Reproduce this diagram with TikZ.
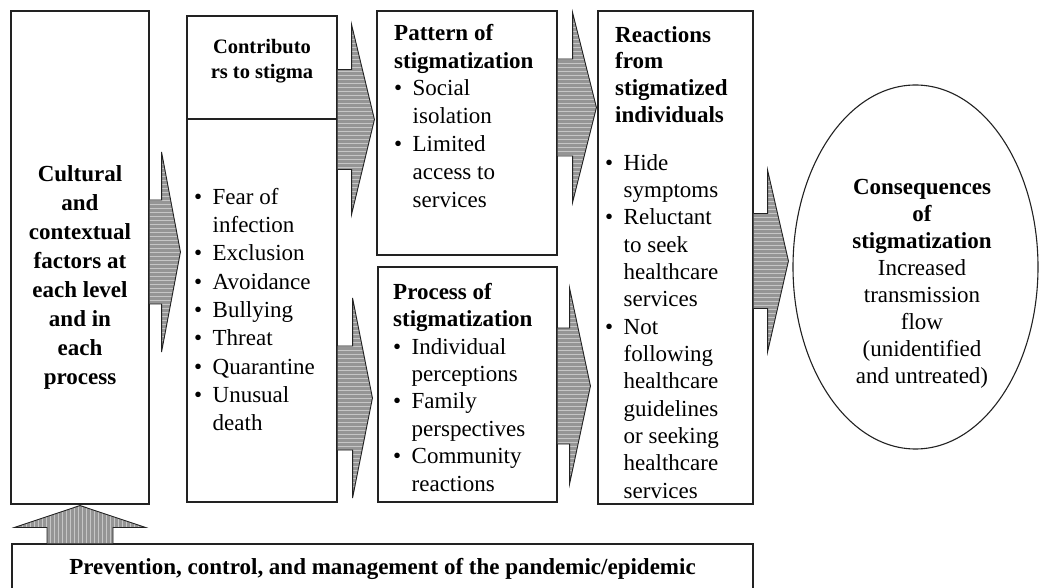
\documentclass[tikz,border=0pt]{standalone}
\usepackage{fontspec}
\setmainfont{Liberation Serif}
\usetikzlibrary{calc,positioning,shapes.geometric}
\definecolor{LineDark}{HTML}{222222}
\definecolor{ArrowGray}{HTML}{959595}
\definecolor{StripeGray}{HTML}{C6C6C6}
\tikzset{
  panel/.style={draw=LineDark, line width=1.1pt, fill=white, inner sep=0pt},
  headtxt/.style={font=\fontsize{23}{26.7}\selectfont\bfseries, inner sep=0pt, align=center},
  listtxt/.style={font=\fontsize{23}{27.4}\selectfont, inner sep=0pt, align=left},
  arrowedge/.style={draw=LineDark, line width=0.9pt},
  stripe/.style={StripeGray, line width=0.6pt},
}
% bullet and hanging indent for the item lists
\newcommand{\bul}{\makebox[18.5pt][l]{\textbullet}}
\newcommand{\cont}{\hspace*{18.5pt}}
% block arrow: source, target, mid height, shaft half, head half, shaft length, gap
\newcommand{\fatarrow}[7]{%
  \coordinate (fa-s) at (#1.east |- 0,#3);
  \coordinate (fa-t) at ($(#2.west |- 0,#3)+(-#7,0)$);
  \coordinate (fa-a) at ($(fa-s)+(0,#4)$);
  \coordinate (fa-b) at ($(fa-s)+(#6,#4)$);
  \coordinate (fa-c) at ($(fa-s)+(#6,#5)$);
  \coordinate (fa-d) at ($(fa-s)+(#6,-#5)$);
  \coordinate (fa-e) at ($(fa-s)+(#6,-#4)$);
  \coordinate (fa-f) at ($(fa-s)+(0,-#4)$);
  \fill[ArrowGray] (fa-a) -- (fa-b) -- (fa-c) -- (fa-t) -- (fa-d) -- (fa-e) -- (fa-f) -- cycle;
  \begin{scope}
    \clip (fa-a) -- (fa-b) -- (fa-c) -- (fa-t) -- (fa-d) -- (fa-e) -- (fa-f) -- cycle;
    \foreach \k in {-100,-96,...,100}
      \draw[stripe] ($(fa-s)+(0,\k)$) -- ++(45,0);
  \end{scope}
  \draw[arrowedge] (fa-a) -- (fa-b) -- (fa-c) -- (fa-t) -- (fa-d) -- (fa-e) -- (fa-f);
}
\begin{document}
\begin{tikzpicture}[x=1pt,y=1pt]
  \clip (0,0) rectangle (1039,587);

  % ---- Boxes ----
  \node[panel, minimum width=138, minimum height=493] (cult)    at (80,329.5)   {};
  \node[panel, minimum width=150, minimum height=486] (contrib) at (262,328)    {};
  \node[panel, minimum width=180, minimum height=244] (pattern) at (467,454)    {};
  \node[panel, minimum width=179, minimum height=235] (process) at (467.5,202.5){};
  \node[panel, minimum width=155, minimum height=493] (react)   at (675.5,329.5){};
  \node[panel, ellipse, minimum width=245, minimum height=364] (conseq) at (915.5,320) {};
  \node[panel, minimum width=741, minimum height=60]  (prev)    at (382.5,13)   {};
  \draw[LineDark, line width=1.1pt] (contrib.west |- 0,468) -- (contrib.east |- 0,468);

  % ---- Texts ----
  \node[headtxt, font=\fontsize{23}{29}\selectfont\bfseries, anchor=north] (cult-txt) at (80,422)
        {Cultural\\and\\contextual\\factors at\\each level\\and in\\each\\process};
  \node[headtxt, font=\fontsize{20.5}{25}\selectfont\bfseries, anchor=north] (contrib-head) at (262,548)
        {Contributo\\rs to stigma};
  \node[listtxt, font=\fontsize{23}{28.3}\selectfont, anchor=north west] (contrib-list) at (194,399)
        {\bul Fear of\\\cont infection\\\bul Exclusion\\\bul Avoidance\\\bul Bullying\\
         \bul Threat\\\bul Quarantine\\\bul Unusual\\\cont death};
  \node[listtxt, font=\fontsize{23}{27.8}\selectfont, anchor=north west] (pattern-txt) at (394,563)
        {\textbf{Pattern of}\\\textbf{stigmatization}\\\bul Social\\\cont isolation\\
         \bul Limited\\\cont access to\\\cont services};
  \node[listtxt, anchor=north west] (process-txt) at (393,304)
        {\textbf{Process of}\\\textbf{stigmatization}\\\bul Individual\\\cont perceptions\\
         \bul Family\\\cont perspectives\\\bul Community\\\cont reactions};
  \node[headtxt, align=left, anchor=north west] (react-head) at (615,561)
        {Reactions\\from\\stigmatized\\individuals};
  \node[listtxt, font=\fontsize{23}{27.33}\selectfont, anchor=north west] (react-list) at (605,433)
        {\bul Hide\\\cont symptoms\\\bul Reluctant\\\cont to seek\\\cont healthcare\\\cont services\\
         \bul Not\\\cont following\\\cont healthcare\\\cont guidelines\\\cont or seeking\\
         \cont healthcare\\\cont services};
  \node[listtxt, font=\fontsize{23}{27}\selectfont, align=center, anchor=north] (conseq-txt) at (922,408)
        {\textbf{Consequences}\\\textbf{of}\\\textbf{stigmatization}\\Increased\\transmission\\
         flow\\(unidentified\\and untreated)};
  \node[headtxt] (prev-txt) at (382.5,18)
        {Prevention, control, and management of the pandemic/epidemic};

  % ---- Block arrows ----
  \fatarrow{cult}{contrib}{335}{52}{100}{12}{6}
  \fatarrow{contrib}{pattern}{467.5}{50}{95}{14}{2}
  \fatarrow{contrib}{process}{189}{52}{100}{15}{5}
  \fatarrow{pattern}{react}{479.5}{48.5}{95}{15}{1}
  \fatarrow{process}{react}{201}{58}{98}{12}{7}
  \fatarrow{react}{conseq}{326}{47.5}{91}{14}{4}

  % ---- Upward arrow into the left box ----
  \coordinate (up-b) at (cult.south |- prev.north);
  \coordinate (up-t) at ($(cult.south)+(0,-1)$);
  \fill[ArrowGray] ($(up-b)+(-33,0)$) -- ++(0,16) -- ++(-32.5,0) -- (up-t)
    -- ($(up-b)+(65.5,16)$) -- ++(-32.5,0) -- ($(up-b)+(33,0)$) -- cycle;
  \begin{scope}
    \clip ($(up-b)+(-33,0)$) -- ++(0,16) -- ++(-32.5,0) -- (up-t)
      -- ($(up-b)+(65.5,16)$) -- ++(-32.5,0) -- ($(up-b)+(33,0)$) -- cycle;
    \foreach \k in {-66,-62,...,66}
      \draw[stripe] ($(up-b)+(\k,0)$) -- ++(0,40);
  \end{scope}
  \draw[arrowedge] ($(up-b)+(-33,0)$) -- ++(0,16) -- ++(-32.5,0) -- (up-t)
    -- ($(up-b)+(65.5,16)$) -- ++(-32.5,0) -- ($(up-b)+(33,0)$);

\end{tikzpicture}
\end{document}
